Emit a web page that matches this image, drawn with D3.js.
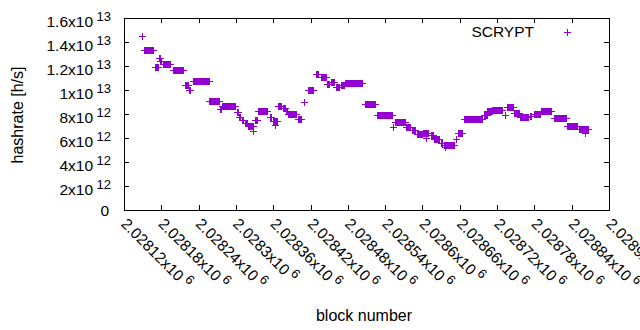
<!DOCTYPE html>
<html>
<head>
<meta charset="utf-8">
<script src="https://cdn.jsdelivr.net/npm/d3@7"></script>
<style>
  body { margin: 0; background: #fff; }
  svg { display: block; font-family: "Liberation Sans", Arial, sans-serif; }
</style>
</head>
<body>
<svg id="chart" width="640" height="330"></svg>
<script>
// Runs of blocks that share the same hashrate estimate (value in units of 1e12 h/s)
const runStart = [
    2028149, 2028153, 2028170, 2028177, 2028179, 2028183, 2028199, 2028219, 2028226, 2028232,
    2028258, 2028275, 2028279, 2028303, 2028306, 2028310, 2028316, 2028321, 2028329, 2028332,
    2028337, 2028355, 2028361, 2028364, 2028369, 2028377, 2028381, 2028385, 2028400, 2028411,
    2028416, 2028429, 2028437, 2028448, 2028453, 2028461, 2028470, 2028477, 2028508, 2028527,
    2028553, 2028556, 2028574, 2028584, 2028592, 2028601, 2028607, 2028614, 2028620, 2028630,
    2028636, 2028637, 2028654, 2028658, 2028668, 2028699, 2028705, 2028713, 2028733, 2028736,
    2028748, 2028758, 2028773, 2028780, 2028792, 2028812, 2028834, 2028852, 2028862
];
const runEnd = [
    2028150, 2028167, 2028175, 2028178, 2028180, 2028195, 2028216, 2028223, 2028227, 2028257,
    2028273, 2028276, 2028300, 2028304, 2028307, 2028312, 2028318, 2028328, 2028329, 2028334,
    2028351, 2028358, 2028367, 2028364, 2028374, 2028380, 2028383, 2028397, 2028406, 2028411,
    2028425, 2028433, 2028446, 2028451, 2028459, 2028467, 2028474, 2028504, 2028524, 2028552,
    2028553, 2028572, 2028581, 2028589, 2028600, 2028610, 2028607, 2028617, 2028627, 2028633,
    2028651, 2028637, 2028654, 2028665, 2028696, 2028704, 2028712, 2028728, 2028733, 2028747,
    2028756, 2028770, 2028776, 2028790, 2028807, 2028832, 2028849, 2028867, 2028862
];
const runValue = [
    14.47, 13.3, 11.9, 12.65, 12.45, 12.15, 11.63, 10.4, 10.0, 10.72,
    9.12, 8.42, 8.64, 8.14, 7.78, 7.54, 7.29, 7.0, 6.62, 7.47,
    8.22, 7.72, 7.4, 7.12, 8.67, 8.46, 8.22, 7.98, 7.56, 8.97,
    9.97, 11.31, 11.1, 10.52, 10.64, 10.21, 10.4, 10.56, 8.81, 7.94,
    6.94, 7.31, 6.89, 6.69, 6.32, 6.39, 5.97, 6.22, 5.9, 5.62,
    5.42, 5.22, 5.89, 6.39, 7.55, 7.92, 8.22, 8.35, 7.92, 8.61,
    8.06, 7.72, 7.86, 7.97, 8.28, 7.64, 7.03, 6.75, 6.42
];

// Axis ticks
const yTicks = [0, 2e12, 4e12, 6e12, 8e12, 1e13, 1.2e13, 1.4e13, 1.6e13];
const yTickMantissa = ["0", "2", "4", "6", "8", "1", "1.2", "1.4", "1.6"];
const yTickExp = ["", "12", "12", "12", "12", "13", "13", "13", "13"];

const xTicks = [2028120, 2028180, 2028240, 2028300, 2028360, 2028420, 2028480,
                2028540, 2028600, 2028660, 2028720, 2028780, 2028840, 2028900];
const xTickMantissa = ["2.02812", "2.02818", "2.02824", "2.0283", "2.02836", "2.02842", "2.02848",
                       "2.02854", "2.0286", "2.02866", "2.02872", "2.02878", "2.02884", "2.0289"];
const xTickExp = "6";

const seriesName = "SCRYPT";
const color = "#9400d3";

// Expand the runs into one point per block
const points = [];
runStart.forEach((s, i) => {
    for (let b = s; b <= runEnd[i]; b++) {
        points.push({ block: b, value: runValue[i] * 1e12 });
    }
});

const svg = d3.select("#chart");
const plotLeft = 124, plotRight = 609, plotTop = 18, plotBottom = 210;
const fontSize = 15.5, supSize = 13;

const x = d3.scaleLinear().domain([2028120, 2028900]).range([plotLeft, plotRight]);
const y = d3.scaleLinear().domain([0, 1.6e13]).range([plotBottom, plotTop]);

// Ticks on all four sides, pointing inward
const tick = 5;
function addTicks(axis, transform) {
    const g = svg.append("g").attr("transform", transform).call(axis);
    g.select(".domain").remove();
    g.selectAll("line").attr("stroke", "#000").attr("shape-rendering", "crispEdges");
    g.selectAll("text").remove();
}
addTicks(d3.axisLeft(y).tickValues(yTicks).tickSize(-tick), `translate(${plotLeft},0)`);
addTicks(d3.axisRight(y).tickValues(yTicks).tickSize(-tick), `translate(${plotRight},0)`);
addTicks(d3.axisBottom(x).tickValues(xTicks).tickSize(-tick), `translate(0,${plotBottom})`);
addTicks(d3.axisTop(x).tickValues(xTicks).tickSize(-tick), `translate(0,${plotTop})`);

// Border
svg.append("rect")
    .attr("x", plotLeft + 0.5).attr("y", plotTop + 0.5)
    .attr("width", plotRight - plotLeft).attr("height", plotBottom - plotTop)
    .attr("fill", "none").attr("stroke", "#000")
    .attr("shape-rendering", "crispEdges");

// Y tick labels
yTicks.forEach((v, i) => {
    const hasExp = yTickExp[i] !== "";
    const t = svg.append("text")
        .attr("x", hasExp ? 111 : 109)
        .attr("y", y(v) + (hasExp ? 8.5 : 5.5))
        .attr("text-anchor", "end")
        .attr("font-size", fontSize);
    t.append("tspan").text(hasExp ? yTickMantissa[i] + "x10" : yTickMantissa[i]);
    if (hasExp) {
        t.append("tspan").attr("dx", 3.5).attr("dy", -6).attr("font-size", supSize).text(yTickExp[i]);
    }
});

// X tick labels, rotated
xTicks.forEach((v, i) => {
    const t = svg.append("text")
        .attr("transform", `translate(${x(v)},${plotBottom + 11}) rotate(45)`)
        .attr("font-size", fontSize)
        .attr("dy", "0.35em");
    t.append("tspan").text(xTickMantissa[i] + "x10");
    t.append("tspan").attr("dx", 3.5).attr("dy", -6).attr("font-size", supSize).text(xTickExp);
});

// Axis titles
svg.append("text")
    .attr("transform", "translate(23,115) rotate(-90)")
    .attr("text-anchor", "middle")
    .attr("font-size", 16)
    .text("hashrate [h/s]");

svg.append("text")
    .attr("x", 364).attr("y", 321)
    .attr("text-anchor", "middle")
    .attr("font-size", 16)
    .text("block number");

// Points as "+" markers
const half = 3.5;
function plusPath(px, py) {
    return `M${px - half},${py}h${2 * half}M${px},${py - half}v${2 * half}`;
}
svg.append("g")
    .attr("shape-rendering", "crispEdges")
    .selectAll("path")
    .data(points)
    .join("path")
    .attr("d", d => plusPath(x(d.block), Math.round(y(d.value)) + 0.5))
    .attr("stroke", color)
    .attr("stroke-width", 1)
    .attr("fill", "none");

// Legend
svg.append("text")
    .attr("x", 534).attr("y", 37)
    .attr("text-anchor", "end")
    .attr("font-size", fontSize)
    .text(seriesName);
svg.append("path")
    .attr("d", plusPath(567.5, 32.5))
    .attr("stroke", color)
    .attr("stroke-width", 1);
</script>
</body>
</html>
